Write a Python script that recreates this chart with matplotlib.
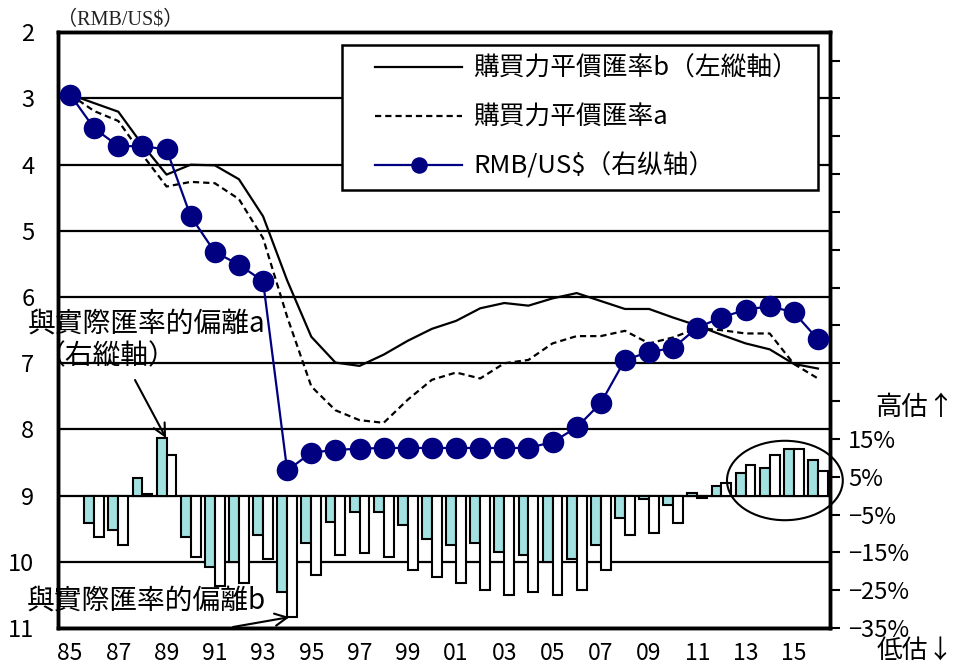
import numpy as np
import matplotlib
matplotlib.use("Agg")
import matplotlib.pyplot as plt
from matplotlib.patches import Ellipse
from matplotlib.legend_handler import HandlerLine2D
from matplotlib.ticker import FixedLocator, FuncFormatter

plt.rcParams['font.family'] = ['Noto Sans CJK JP', 'DejaVu Sans']

years = list(range(1985, 2017))
rmb = [2.94, 3.45, 3.72, 3.72, 3.77, 4.78, 5.32, 5.51, 5.76, 8.62, 8.35, 8.31,
       8.29, 8.28, 8.28, 8.28, 8.28, 8.28, 8.28, 8.28, 8.19, 7.97, 7.60, 6.95,
       6.83, 6.77, 6.46, 6.31, 6.19, 6.14, 6.23, 6.64]
ppp_b = [2.94, 3.07, 3.20, 3.70, 4.15, 4.00, 4.01, 4.22, 4.78, 5.75, 6.60, 6.99,
         7.04, 6.87, 6.66, 6.48, 6.36, 6.17, 6.09, 6.13, 6.02, 5.94, 6.06, 6.18,
         6.18, 6.31, 6.43, 6.57, 6.70, 6.79, 7.01, 7.08]
ppp_a = [2.94, 3.19, 3.34, 3.85, 4.33, 4.26, 4.28, 4.52, 5.11, 6.30, 7.35, 7.71,
         7.86, 7.90, 7.55, 7.25, 7.14, 7.23, 7.00, 6.95, 6.70, 6.59, 6.59, 6.51,
         6.70, 6.61, 6.47, 6.50, 6.55, 6.55, 7.01, 7.23]
nan = np.nan
dev_a = [nan, -7.2, -9.0, 4.7, 15.2, -11.0, -19.0, -17.6, -10.3, -25.6, -12.4, -7.0,
         -4.2, -4.2, -7.7, -11.5, -13.0, -12.4, -15.0, -15.7, -17.5, -16.8, -13.0, -6.0,
         -1.0, -2.6, 0.8, 2.6, 6.0, 7.2, 12.3, 9.3]
dev_b = [nan, -11.0, -13.0, 0.5, 10.7, -16.3, -24.0, -23.0, -16.8, -32.0, -21.0, -15.7,
         -15.2, -16.3, -19.7, -21.6, -23.0, -25.0, -26.2, -25.6, -26.2, -25.0, -19.7, -10.5,
         -10.0, -7.3, -0.7, 3.4, 8.1, 10.7, 12.3, 6.6]
left_ticks = list(range(2, 12))
right_labelled = [-35, -25, -15, -5, 5, 15]
right_ticks = list(range(-35, 125, 10))

lbl_b = "購買力平價匯率b（左縱軸）"
lbl_a = "購買力平價匯率a"
lbl_r = "RMB/US$（右纵轴）"

W, H = 959, 669
fig = plt.figure(figsize=(W / 100, H / 100), dpi=100)
rect = [58 / W, 1 - 628 / H, (830 - 58) / W, (628 - 32.3) / H]
ax = fig.add_axes(rect)
x = np.arange(len(years))

# base axis: left scale + gridlines
ax.set_xlim(-0.5, len(years) - 0.5)
ax.set_ylim(11, 2)
ax.set_yticks(left_ticks)
ax.set_yticklabels([str(v) for v in left_ticks])
ax.yaxis.grid(True, color='black', lw=1.6)
ax.set_axisbelow(True)
ax.tick_params(axis='y', length=0, pad=17, labelsize=17)
ax.set_xticks(x[::2])
ax.set_xticklabels([f"{y % 100:02d}" for y in years[::2]])
ax.tick_params(axis='x', length=0, pad=10, labelsize=16.5)
for s in ax.spines.values():
    s.set_linewidth(2.5)

# bars on right scale
axb = ax.twinx()
axb.set_ylim(-35, 122.5)
bw = 0.41
axb.bar(x - bw / 2, dev_a, width=bw, color='#a3e1e1', edgecolor='black', lw=1.5, zorder=2)
axb.bar(x + bw / 2, dev_b, width=bw, color='white', edgecolor='black', lw=1.5, zorder=2)
axb.yaxis.set_major_locator(FixedLocator(right_ticks))
axb.yaxis.set_major_formatter(FuncFormatter(
    lambda v, p: (f"{v:.0f}%".replace('-', '−') if round(v) in right_labelled else "")))
axb.tick_params(axis='y', length=7, width=1.5, direction='out', pad=6, labelsize=17)
for s in axb.spines.values():
    s.set_linewidth(2.5)
ell = Ellipse((29.63, 4.0), width=4.8, height=21, fill=False, edgecolor='black',
              lw=1.5, clip_on=False, zorder=5)
axb.add_patch(ell)

# lines on top
axl = ax.twinx()
axl.set_ylim(11, 2)
axl.set_yticks([])
for s in axl.spines.values():
    s.set_visible(False)
l1, = axl.plot(x, ppp_b, color='black', lw=1.6)
l2, = axl.plot(x, ppp_a, color='black', lw=1.6, ls=(0, (2.8, 1.8)))
l3, = axl.plot(x, rmb, color='#000080', lw=1.6, marker='o', ms=14.5,
               markerfacecolor='#000080', markeredgecolor='#000080')

hmap = {l1: HandlerLine2D(xpad=0.9), l2: HandlerLine2D(xpad=0.9),
        l3: HandlerLine2D(xpad=0.9)}
leg = axl.legend([l1, l2, l3], [lbl_b, lbl_a, lbl_r], loc='upper left',
                 bbox_to_anchor=(0.368, 0.738, 0.616, 0.24), mode='expand',
                 borderaxespad=0, fontsize=18.5, handlelength=4.28, handletextpad=0.43,
                 borderpad=0.4, labelspacing=0.89, numpoints=1, markerscale=0.75,
                 fancybox=False, framealpha=1, edgecolor='black', handler_map=hmap)
leg.get_frame().set_linewidth(1.8)

# annotations
fig.text(57 / W, 1 - 20 / H, "（RMB/US$）", fontsize=14.5, ha='left', va='center',
         family=['Liberation Serif', 'Noto Sans CJK JP'], color='#222222')
fig.text(28 / W, 1 - 324 / H, "與實際匯率的偏離a", fontsize=20, ha='left', va='center')
fig.text(38 / W, 1 - 356 / H, "（右縱軸）", fontsize=20, ha='left', va='center')
fig.text(27 / W, 1 - 601 / H, "與實際匯率的偏離b", fontsize=20, ha='left', va='center')
axb.annotate("", xy=(4 - 0.02, 15.2), xycoords='data',
             xytext=(135, H - 380), textcoords='figure pixels',
             arrowprops=dict(arrowstyle='->', color='black', lw=1.5,
                             mutation_scale=22, shrinkA=0, shrinkB=0),
             annotation_clip=False)
axb.annotate("", xy=(9 + bw / 2, -32.0), xycoords='data',
             xytext=(233, H - 627), textcoords='figure pixels',
             arrowprops=dict(arrowstyle='->', color='black', lw=1.5,
                             mutation_scale=22, shrinkA=0, shrinkB=2),
             annotation_clip=False)
fig.text(915 / W, 1 - 407 / H, "高估↑", fontsize=19, ha='center', va='center')
fig.text(915 / W, 1 - 651 / H, "低估↓", fontsize=18.5, ha='center', va='center')

fig.savefig("out.png", dpi=100)
